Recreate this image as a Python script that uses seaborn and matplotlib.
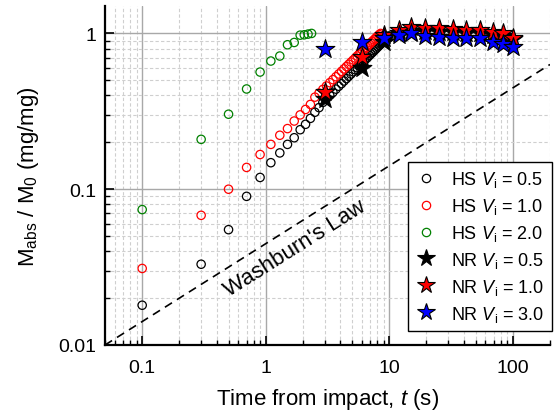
import numpy as np
import pandas as pd
import matplotlib
matplotlib.use("Agg")
import matplotlib.pyplot as plt
import matplotlib.lines as mlines
import matplotlib.ticker as mticker
import seaborn as sns

# HS samples (hollow circles)
hs05_t = [0.1, 0.3, 0.5, 0.7, 0.9, 1.1, 1.3, 1.5, 1.7, 1.9, 2.1, 2.3, 2.5, 2.7, 2.9,
          3.1, 3.3, 3.5, 3.7, 3.9, 4.1, 4.3, 4.5, 4.7, 4.9, 5.1, 5.3, 5.5, 5.7, 5.9,
          6.1, 6.3, 6.5, 6.7, 6.9, 7.1, 7.3, 7.5, 7.7, 7.9, 8.1, 8.3, 8.5, 8.7, 8.9,
          9.1, 9.3, 9.5, 9.7, 9.9]
hs05_m = [0.018, 0.033, 0.055, 0.090, 0.119, 0.148, 0.171, 0.194, 0.214, 0.241, 0.261, 0.285, 0.312, 0.334, 0.361,
          0.381, 0.400, 0.419, 0.439, 0.458, 0.476, 0.495, 0.513, 0.531, 0.549, 0.567, 0.585, 0.602, 0.620, 0.637,
          0.654, 0.671, 0.688, 0.705, 0.722, 0.739, 0.755, 0.772, 0.788, 0.805, 0.821, 0.837, 0.853, 0.869, 0.885,
          0.901, 0.917, 0.932, 0.948, 0.963]

hs10_t = [0.1, 0.3, 0.5, 0.7, 0.9, 1.1, 1.3, 1.5, 1.7, 1.9, 2.1, 2.3, 2.5, 2.7, 2.9,
          3.1, 3.3, 3.5, 3.7, 3.9, 4.1, 4.3, 4.5, 4.7, 4.9, 5.1, 5.3, 5.5, 5.7, 5.9,
          6.1, 6.3, 6.5, 6.7, 6.9, 7.1, 7.3, 7.5, 7.7, 7.9, 8.1, 8.3, 8.5]
hs10_m = [0.031, 0.068, 0.100, 0.138, 0.167, 0.194, 0.222, 0.245, 0.274, 0.300, 0.325, 0.350, 0.390, 0.414, 0.437,
          0.460, 0.483, 0.505, 0.527, 0.549, 0.571, 0.592, 0.613, 0.634, 0.655, 0.675, 0.695, 0.716, 0.736, 0.755,
          0.775, 0.794, 0.814, 0.833, 0.852, 0.871, 0.890, 0.909, 0.927, 0.946, 0.964, 0.983, 1.000]

hs20_t = [0.1, 0.3, 0.5, 0.7, 0.9, 1.1, 1.3, 1.5, 1.7, 1.9, 2.05, 2.2, 2.35]
hs20_m = [0.074, 0.209, 0.303, 0.44, 0.565, 0.665, 0.716, 0.846, 0.875, 0.975, 0.98, 0.99, 1.0]

# NR samples (stars)
nr_t = [3, 6, 9, 12, 15, 19.5, 25.5, 33, 42, 54, 69, 83, 100]
nr05_m = [0.38, 0.60, 0.88, 1.00, 1.02, 1.03, 1.02, 1.02, 1.00, 1.00, 0.98, 0.96, 0.92]
nr10_m = [0.42, 0.71, 0.97, 1.05, 1.10, 1.09, 1.09, 1.07, 1.05, 1.05, 1.02, 1.00, 0.93]
nr30_m = [0.80, 0.885, 0.93, 0.975, 1.00, 0.966, 0.95, 0.94, 0.94, 0.93, 0.885, 0.85, 0.82]

# Washburn's law (slope 1/2 on log-log)
wash_t = [0.05, 200]
wash_m = [0.01, 0.632]

sns.set_style("ticks")
plt.rcParams["font.family"] = ["Liberation Sans", "DejaVu Sans"]
plt.rcParams["mathtext.fontset"] = "custom"
plt.rcParams["mathtext.rm"] = "Liberation Sans"
plt.rcParams["mathtext.it"] = "Liberation Sans:italic"
for k in ["text.color", "axes.labelcolor", "xtick.color", "ytick.color"]:
    plt.rcParams[k] = "black"

fig = plt.figure(figsize=(5.55, 4.14), dpi=100)
ax = fig.add_axes([105 / 555, 68 / 414, 445 / 555, 339 / 414])

# Washburn line
sns.lineplot(x=wash_t, y=wash_m, ax=ax, color="black", lw=1.2, zorder=2)
ax.lines[-1].set_dashes((5, 3.5))

# HS hollow circles
for t, m, c in [(hs05_t, hs05_m, "black"), (hs10_t, hs10_m, "red"), (hs20_t, hs20_m, "green")]:
    sns.scatterplot(x=t, y=m, ax=ax, marker="o", s=36, color="none",
                    edgecolor=c, linewidth=0.9, zorder=3)

# NR stars
for m, c in [(nr05_m, "black"), (nr10_m, "red"), (nr30_m, "blue")]:
    sns.scatterplot(x=nr_t, y=m, ax=ax, marker="*", s=200, color=c,
                    edgecolor="black", linewidth=0.8, zorder=4)

ax.set_xscale("log")
ax.set_yscale("log")
ax.set_xlim(0.05, 200)
ax.set_ylim(0.01, 1.5)

fmt = mticker.FuncFormatter(lambda v, p: f"{v:g}")
ax.xaxis.set_major_locator(mticker.FixedLocator([0.1, 1, 10, 100]))
ax.yaxis.set_major_locator(mticker.FixedLocator([0.01, 0.1, 1]))
ax.xaxis.set_major_formatter(fmt)
ax.yaxis.set_major_formatter(fmt)
ax.xaxis.set_minor_locator(mticker.LogLocator(base=10, subs=np.arange(2, 10), numticks=20))
ax.yaxis.set_minor_locator(mticker.LogLocator(base=10, subs=np.arange(2, 10), numticks=20))
ax.xaxis.set_minor_formatter(mticker.NullFormatter())
ax.yaxis.set_minor_formatter(mticker.NullFormatter())

# Grid
ax.grid(which="major", color="#a8a8a8", lw=1.0, ls="-", zorder=0)
ax.grid(which="minor", color="#cfcfcf", lw=0.8, ls=(0, (3, 2)), zorder=0)
ax.set_axisbelow(True)

# Spines and ticks
for s in ["top", "right"]:
    ax.spines[s].set_visible(False)
for s in ["left", "bottom"]:
    ax.spines[s].set_linewidth(1.6)
    ax.spines[s].set_color("black")
ax.tick_params(which="major", direction="in", length=6.5, width=1.2, labelsize=14, color="black")
ax.tick_params(which="minor", direction="in", length=3.5, width=1.0, color="black")
ax.tick_params(axis="x", which="major", pad=10)
ax.tick_params(axis="y", which="major", pad=6)

ax.set_xlabel("Time from impact, $t$ (s)", fontsize=16, labelpad=7)
ax.set_ylabel("M$_\\mathregular{abs}$ / M$_\\mathregular{0}$ (mg/mg)", fontsize=16, labelpad=13)

ax.text(1.73, 0.042, "Washburn's Law", fontsize=16, rotation=32.3,
        rotation_mode="anchor", ha="center", va="center")

handles = [
    mlines.Line2D([], [], ls="none", marker="o", ms=6, mfc="none", mec="black", mew=0.9,
                  label="HS $V_\\mathregular{i}$ = 0.5"),
    mlines.Line2D([], [], ls="none", marker="o", ms=6, mfc="none", mec="red", mew=0.9,
                  label="HS $V_\\mathregular{i}$ = 1.0"),
    mlines.Line2D([], [], ls="none", marker="o", ms=6, mfc="none", mec="green", mew=0.9,
                  label="HS $V_\\mathregular{i}$ = 2.0"),
    mlines.Line2D([], [], ls="none", marker="*", ms=13, mfc="black", mec="black", mew=0.8,
                  label="NR $V_\\mathregular{i}$ = 0.5"),
    mlines.Line2D([], [], ls="none", marker="*", ms=13, mfc="red", mec="black", mew=0.8,
                  label="NR $V_\\mathregular{i}$ = 1.0"),
    mlines.Line2D([], [], ls="none", marker="*", ms=13, mfc="blue", mec="black", mew=0.8,
                  label="NR $V_\\mathregular{i}$ = 3.0"),
]
leg = ax.legend(handles=handles, loc="lower right", bbox_to_anchor=(1.004, 0.042),
                borderaxespad=0, fontsize=13, frameon=True, fancybox=False,
                handlelength=1.2, handletextpad=0.8, labelspacing=0.38, borderpad=0.4)
leg.get_frame().set_edgecolor("black")
leg.get_frame().set_linewidth(1.0)
leg.get_frame().set_alpha(1)

fig.savefig("out.png", dpi=100)
